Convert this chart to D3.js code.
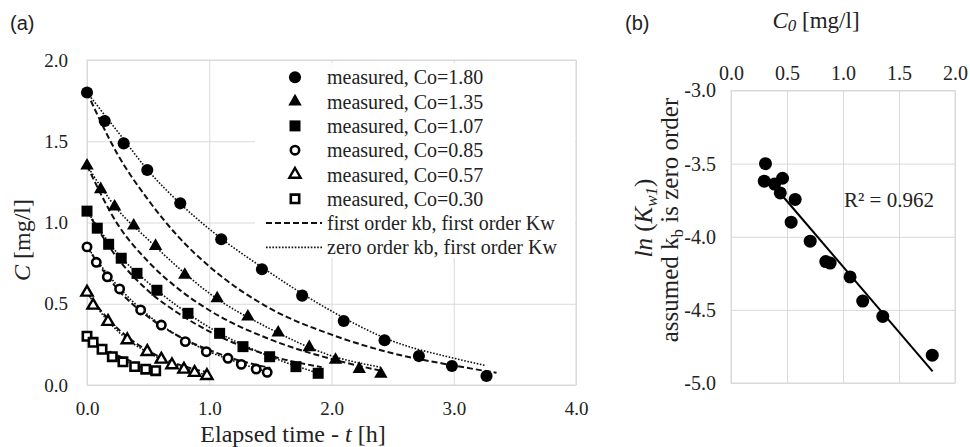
<!DOCTYPE html>
<html>
<head>
<meta charset="utf-8">
<script src="https://cdn.jsdelivr.net/npm/d3@7"></script>
<style>
  body { margin: 0; background: #fff; }
  svg { display: block; }
</style>
</head>
<body>
<div id="chart"></div>
<script>
// ---- panel (a) data: measured concentrations ----
const seriesLabels = ['measured, Co=1.80', 'measured, Co=1.35', 'measured, Co=1.07',
                      'measured, Co=0.85', 'measured, Co=0.57', 'measured, Co=0.30'];
const measT = [
  [0, 0.145, 0.30, 0.493, 0.763, 1.098, 1.431, 1.76, 2.10, 2.434, 2.715, 2.985, 3.268],
  [0, 0.112, 0.226, 0.382, 0.561, 0.80, 1.065, 1.316, 1.564, 1.818, 2.033, 2.227, 2.404],
  [0, 0.084, 0.177, 0.28, 0.409, 0.572, 0.826, 1.085, 1.276, 1.494, 1.709, 1.891],
  [0, 0.076, 0.166, 0.267, 0.439, 0.608, 0.804, 0.976, 1.153, 1.262, 1.384, 1.474],
  [0, 0.05, 0.172, 0.33, 0.493, 0.608, 0.695, 0.793, 0.88, 0.981],
  [0, 0.05, 0.123, 0.207, 0.294, 0.39, 0.48, 0.562]
];
const measC = [
  [1.80, 1.625, 1.487, 1.323, 1.118, 0.897, 0.712, 0.55, 0.394, 0.275, 0.178, 0.117, 0.055],
  [1.35, 1.204, 1.097, 0.98, 0.855, 0.677, 0.533, 0.42, 0.322, 0.232, 0.154, 0.098, 0.068],
  [1.07, 0.965, 0.866, 0.78, 0.687, 0.583, 0.441, 0.318, 0.236, 0.174, 0.113, 0.072],
  [0.85, 0.755, 0.666, 0.591, 0.462, 0.369, 0.267, 0.205, 0.164, 0.127, 0.098, 0.078],
  [0.57, 0.49, 0.39, 0.277, 0.205, 0.158, 0.123, 0.096, 0.076, 0.057],
  [0.30, 0.263, 0.22, 0.174, 0.143, 0.113, 0.097, 0.088]
];

// model curves
const firstT = [
  [0, 0.25, 0.5, 0.75, 1.0, 1.5, 2.0, 2.5, 3.0, 3.35],
  [0, 0.25, 0.5, 0.75, 1.0, 1.5, 2.0, 2.42],
  [0, 0.25, 0.5, 0.75, 1.0, 1.5, 1.92],
  [0, 0.25, 0.5, 0.75, 1.0, 1.25, 1.5],
  [0, 0.1, 0.2, 0.35, 0.5, 0.7, 1.0],
  [0, 0.1, 0.2, 0.3, 0.4, 0.57]
];
const firstC = [
  [1.80, 1.42, 1.14, 0.91, 0.73, 0.47, 0.31, 0.195, 0.12, 0.075],
  [1.35, 0.99, 0.76, 0.59, 0.46, 0.28, 0.16, 0.085],
  [1.07, 0.78, 0.58, 0.44, 0.33, 0.18, 0.11],
  [0.85, 0.59, 0.42, 0.30, 0.215, 0.15, 0.105],
  [0.57, 0.47, 0.385, 0.285, 0.21, 0.14, 0.075],
  [0.30, 0.245, 0.20, 0.165, 0.135, 0.095]
];
const zeroT = [
  [0, 0.25, 0.5, 0.75, 1.0, 1.5, 2.0, 2.5, 3.0, 3.26],
  [0, 0.25, 0.5, 0.75, 1.0, 1.5, 2.0, 2.4],
  [0, 0.25, 0.5, 0.75, 1.0, 1.5, 1.9],
  [0, 0.25, 0.5, 0.75, 1.0, 1.25, 1.5],
  [0, 0.1, 0.2, 0.35, 0.5, 0.7, 0.98],
  [0, 0.1, 0.2, 0.3, 0.4, 0.56]
];
const zeroC = [
  [1.80, 1.56, 1.32, 1.125, 0.96, 0.69, 0.455, 0.27, 0.165, 0.12],
  [1.35, 1.08, 0.895, 0.72, 0.565, 0.345, 0.18, 0.11],
  [1.07, 0.81, 0.63, 0.48, 0.355, 0.175, 0.07],
  [0.85, 0.61, 0.43, 0.30, 0.205, 0.135, 0.075],
  [0.57, 0.46, 0.37, 0.27, 0.20, 0.13, 0.06],
  [0.30, 0.24, 0.19, 0.15, 0.12, 0.085]
];
const lineLabels = ['first order kb, first order Kw', 'zero order kb, first order Kw'];
const ticksA_x = [0, 1, 2, 3, 4];
const ticksA_y = [0, 0.5, 1.0, 1.5, 2.0];

// ---- panel (b) data ----
const bC0 = [0.308, 0.297, 0.389, 0.46, 0.44, 0.573, 0.537, 0.707, 0.846, 0.885, 1.063, 1.176, 1.355, 1.797];
const bLnK = [-3.50, -3.62, -3.64, -3.60, -3.70, -3.745, -3.90, -4.03, -4.17, -4.18, -4.275, -4.44, -4.545, -4.81];
const trendX = [0.47, 1.80];
const trendY = [-3.73, -4.92];
const ticksB_x = [0, 0.5, 1.0, 1.5, 2.0];
const ticksB_y = [-3.0, -3.5, -4.0, -4.5, -5.0];

const W = 970, H = 447;
const grid = '#d9d9d9';
const ink = '#222';
const serif = '"Liberation Serif", "Times New Roman", serif';
const sans = '"Liberation Sans", Arial, sans-serif';
const fmt = d => d.toFixed(1);

const svg = d3.select('#chart').append('svg')
    .attr('width', W)
    .attr('height', H);

function styleAxis(g, size) {
    g.attr('font-family', null);
    g.select('.domain').remove();
    g.selectAll('line').attr('stroke', grid);
    g.selectAll('text')
        .style('font-family', serif)
        .style('font-size', size + 'px')
        .attr('fill', ink);
}

// ================= panel (a) =================
const xA = d3.scaleLinear().domain([0, 4]).range([87, 576]);
const yA = d3.scaleLinear().domain([0, 2]).range([385, 60]);

const gA = svg.append('g');

gA.append('g')
    .attr('transform', `translate(0,${yA(0)})`)
    .call(d3.axisBottom(xA).tickValues(ticksA_x).tickFormat(fmt)
        .tickSize(-(yA(0) - yA(2))).tickPadding(17))
    .call(g => styleAxis(g, 19));

gA.append('g')
    .attr('transform', `translate(${xA(0)},0)`)
    .call(d3.axisLeft(yA).tickValues(ticksA_y).tickFormat(fmt)
        .tickSize(-(xA(4) - xA(0))).tickPadding(19))
    .call(g => styleAxis(g, 19));

gA.append('rect')
    .attr('x', xA(0)).attr('y', yA(2))
    .attr('width', xA(4) - xA(0)).attr('height', yA(0) - yA(2))
    .attr('fill', 'none').attr('stroke', grid);

// legend background covers the grid
gA.append('rect')
    .attr('x', 255).attr('y', 63).attr('width', 320).attr('height', 195)
    .attr('fill', '#fff');

const lineA = d3.line().curve(d3.curveMonotoneX);

firstT.forEach((ts, i) => {
    gA.append('path')
        .attr('d', lineA(ts.map((t, j) => [xA(t), yA(firstC[i][j])])))
        .attr('fill', 'none').attr('stroke', '#111')
        .attr('stroke-width', 2).attr('stroke-dasharray', '6,3');
});
zeroT.forEach((ts, i) => {
    gA.append('path')
        .attr('d', lineA(ts.map((t, j) => [xA(t), yA(zeroC[i][j])])))
        .attr('fill', 'none').attr('stroke', '#111')
        .attr('stroke-width', 1.6).attr('stroke-dasharray', '1.6,1.6');
});

// marker styles for the six series
const markers = [
    { type: d3.symbolCircle, size: 115, fill: '#000', sw: 0 },
    { type: d3.symbolTriangle, size: 78, fill: '#000', sw: 0 },
    { type: d3.symbolSquare, size: 121, fill: '#000', sw: 0 },
    { type: d3.symbolCircle, size: 55, fill: '#fff', sw: 2.6 },
    { type: d3.symbolTriangle, size: 55, fill: '#fff', sw: 2.4 },
    { type: d3.symbolSquare, size: 70, fill: '#fff', sw: 2.6 }
];

measT.forEach((ts, i) => {
    const m = markers[i];
    gA.append('g').selectAll('path')
        .data(ts.map((t, j) => [t, measC[i][j]]))
        .join('path')
        .attr('transform', d => `translate(${xA(d[0])},${yA(d[1])})`)
        .attr('d', d3.symbol().type(m.type).size(m.size))
        .attr('fill', m.fill)
        .attr('stroke', '#000')
        .attr('stroke-width', m.sw);
});

// legend
const legY0 = 77.3, legDy = 24.3;
const leg = gA.append('g');
seriesLabels.forEach((lab, i) => {
    const m = markers[i];
    const y = legY0 + i * legDy;
    leg.append('path')
        .attr('transform', `translate(295,${y})`)
        .attr('d', d3.symbol().type(m.type).size(m.size))
        .attr('fill', m.fill).attr('stroke', '#000').attr('stroke-width', m.sw);
    leg.append('text')
        .attr('x', 327).attr('y', y).attr('dy', '0.35em')
        .style('font-family', serif).style('font-size', '20px')
        .attr('fill', ink).text(lab);
});
lineLabels.forEach((lab, i) => {
    const y = legY0 + (6 + i) * legDy;
    leg.append('line')
        .attr('x1', 266).attr('x2', 322).attr('y1', y).attr('y2', y)
        .attr('stroke', '#111')
        .attr('stroke-width', i === 0 ? 2 : 1.6)
        .attr('stroke-dasharray', i === 0 ? '6,3' : '1.6,1.6');
    leg.append('text')
        .attr('x', 327).attr('y', y).attr('dy', '0.35em')
        .style('font-family', serif).style('font-size', '20px')
        .attr('fill', ink).text(lab);
});

// titles
svg.append('text')
    .attr('x', 10).attr('y', 30)
    .style('font-family', sans).style('font-size', '20px')
    .attr('fill', ink).text('(a)');

const xTitleA = svg.append('text')
    .attr('x', 293).attr('y', 442)
    .attr('text-anchor', 'middle')
    .style('font-family', serif).style('font-size', '24px').attr('fill', ink);
xTitleA.append('tspan').text('Elapsed time - ');
xTitleA.append('tspan').attr('font-style', 'italic').text('t');
xTitleA.append('tspan').text(' [h]');

const yTitleA = svg.append('text')
    .attr('transform', 'translate(30,240) rotate(-90)')
    .attr('text-anchor', 'middle')
    .style('font-family', serif).style('font-size', '24px').attr('fill', ink);
yTitleA.append('tspan').attr('font-style', 'italic').text('C');
yTitleA.append('tspan').text(' [mg/l]');

// ================= panel (b) =================
const xB = d3.scaleLinear().domain([0, 2]).range([731, 955]);
const yB = d3.scaleLinear().domain([-3, -5]).range([90.5, 383]);

const gB = svg.append('g');

gB.append('g')
    .attr('transform', `translate(0,${yB(-3)})`)
    .call(d3.axisTop(xB).tickValues(ticksB_x).tickFormat(fmt)
        .tickSize(-(yB(-5) - yB(-3))).tickPadding(11))
    .call(g => styleAxis(g, 20));

gB.append('g')
    .attr('transform', `translate(${xB(0)},0)`)
    .call(d3.axisLeft(yB).tickValues(ticksB_y).tickFormat(fmt)
        .tickSize(-(xB(2) - xB(0))).tickPadding(15))
    .call(g => styleAxis(g, 20));

gB.append('rect')
    .attr('x', xB(0)).attr('y', yB(-3))
    .attr('width', xB(2) - xB(0)).attr('height', yB(-5) - yB(-3))
    .attr('fill', 'none').attr('stroke', grid);

gB.append('path')
    .attr('d', d3.line()(trendX.map((x, i) => [xB(x), yB(trendY[i])])))
    .attr('stroke', '#000').attr('stroke-width', 2).attr('fill', 'none');

gB.append('g').selectAll('circle')
    .data(bC0.map((x, i) => [x, bLnK[i]]))
    .join('circle')
    .attr('cx', d => xB(d[0]))
    .attr('cy', d => yB(d[1]))
    .attr('r', 6.5)
    .attr('fill', '#000');

gB.append('text')
    .attr('x', 844).attr('y', 200).attr('dy', '0.35em')
    .style('font-family', serif).style('font-size', '21px')
    .attr('fill', ink).text('R² = 0.962');

svg.append('text')
    .attr('x', 625).attr('y', 30)
    .style('font-family', sans).style('font-size', '20px')
    .attr('fill', ink).text('(b)');

const xTitleB = svg.append('text')
    .attr('x', 816).attr('y', 28)
    .attr('text-anchor', 'middle')
    .style('font-family', serif).style('font-size', '23px').attr('fill', ink);
xTitleB.append('tspan').attr('font-style', 'italic').text('C');
xTitleB.append('tspan').attr('font-style', 'italic').style('font-size', '17px').attr('dy', 3).text('0');
xTitleB.append('tspan').attr('dy', -3).text(' [mg/l]');

const yTitleB1 = svg.append('text')
    .attr('transform', 'translate(652,218) rotate(-90)')
    .attr('text-anchor', 'middle')
    .style('font-family', serif).style('font-size', '25px').attr('fill', ink);
yTitleB1.append('tspan').attr('font-style', 'italic').text('ln');
yTitleB1.append('tspan').text(' (');
yTitleB1.append('tspan').attr('font-style', 'italic').text('K');
yTitleB1.append('tspan').attr('font-style', 'italic').style('font-size', '17px').attr('dy', 5).text('w1');
yTitleB1.append('tspan').attr('dy', -5).text(')');

const yTitleB2 = svg.append('text')
    .attr('transform', 'translate(678,220) rotate(-90)')
    .attr('text-anchor', 'middle')
    .style('font-family', serif).style('font-size', '25px').attr('fill', ink);
yTitleB2.append('tspan').text('assumed k');
yTitleB2.append('tspan').style('font-size', '17px').attr('dy', 5).text('b');
yTitleB2.append('tspan').attr('dy', -5).text(' is zero order');
</script>
</body>
</html>
